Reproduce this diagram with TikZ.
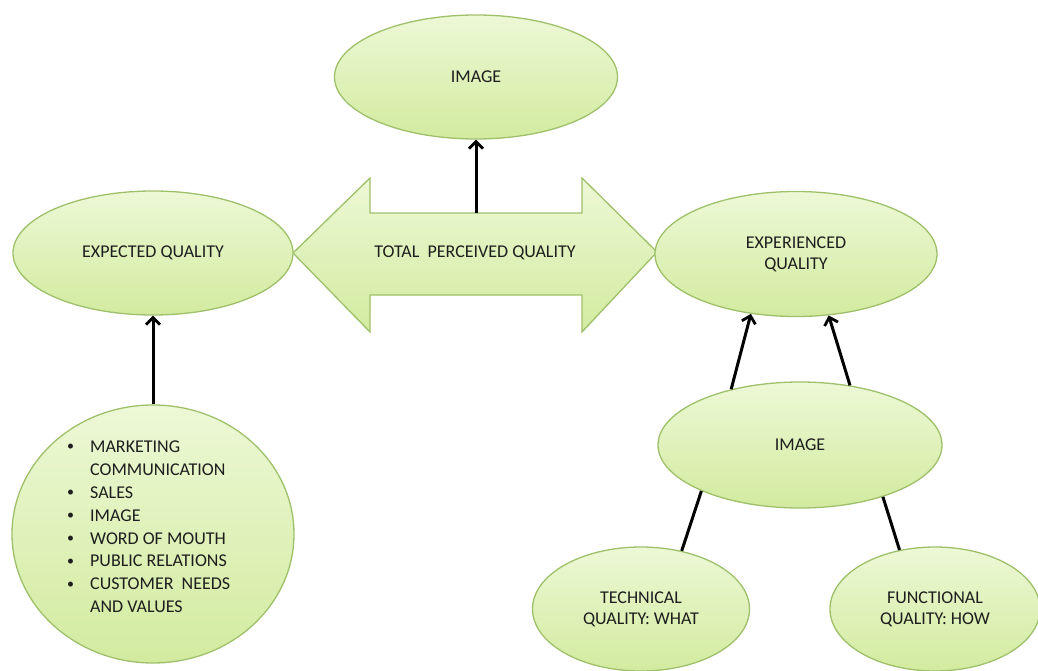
\documentclass[tikz,border=0pt]{standalone}
\usepackage{fontspec}
\setmainfont{Carlito}
\usetikzlibrary{shapes.geometric,arrows.meta}
\definecolor{fillL}{HTML}{EDF8D6}
\definecolor{fillD}{HTML}{D2EB9F}
\definecolor{rimG}{HTML}{9FC06A}
\definecolor{txtC}{HTML}{1E1E1E}
\newcommand{\blt}{\raisebox{1.5bp}{\fontsize{14bp}{14bp}\selectfont\textbullet}}
\tikzset{
  bub/.style={ellipse, draw=rimG, line width=1.3bp, top color=fillL, bottom color=fillD,
    inner sep=0pt, text=txtC, align=center, font=\fontsize{18bp}{21bp}\selectfont},
  conn/.style={line width=3bp, black},
  arr/.style={conn, -{Straight Barb[length=7bp,width=14bp,line width=2.8bp]}},
}
\begin{document}
\begin{tikzpicture}[x=1bp,y=-1bp]
\useasboundingbox (0,0) rectangle (1038,671);
% double arrow
\draw[draw=rimG, line width=1.3bp, top color=fillL, bottom color=fillD]
  (293,253) -- (370,178) -- (370,213) -- (582,213) -- (582,178) -- (657,252)
  -- (582,332) -- (582,295) -- (370,295) -- (370,332) -- cycle;
\node[text=txtC, font=\fontsize{18bp}{21bp}\selectfont] (tpq) at (475,253) {TOTAL\ \ PERCEIVED QUALITY};
\coordinate (shaft) at (476,213);

\node[bub, minimum width=283bp, minimum height=124bp] (img1) at (476,77) {IMAGE};
\node[bub, minimum width=280bp, minimum height=124bp] (expq) at (153,253) {EXPECTED QUALITY};
\node[bub, minimum width=282bp, minimum height=125bp] (expd) at (796,254) {EXPERIENCED\\QUALITY};
\node[bub, minimum width=284bp, minimum height=126bp] (img2) at (800,445) {IMAGE};
\node[bub, minimum width=217bp, minimum height=124bp] (tech) at (641,609) {TECHNICAL\\QUALITY: WHAT};
\node[bub, minimum width=210bp, minimum height=124bp] (func) at (935,609) {FUNCTIONAL\\QUALITY: HOW};
\node[bub, minimum width=282bp, minimum height=258bp] (circ) at (153,534) {};
\node[anchor=west, text=txtC, font=\fontsize{18bp}{22.9bp}\selectfont, inner sep=0pt] (lst) at (67,528) {%
  \begin{tabular}{@{}l@{\hspace{16bp}}l@{}}
  \blt & MARKETING\\
   & COMMUNICATION\\
  \blt & SALES\\
  \blt & IMAGE\\
  \blt & WORD OF MOUTH\\
  \blt & PUBLIC RELATIONS\\
  \blt & CUSTOMER\ \ NEEDS\\
   & AND VALUES
  \end{tabular}};

\draw[arr] (shaft) -- (img1.south);
\draw[arr] (circ.north) -- (expq.south);
\draw[arr] (img2.141) -- (expd.233);
\draw[arr] (img2.50) -- (expd.298);
\draw[conn] (img2.205) -- (tech.55);
\draw[conn] (img2.328) -- (func.121);
\end{tikzpicture}
\end{document}
